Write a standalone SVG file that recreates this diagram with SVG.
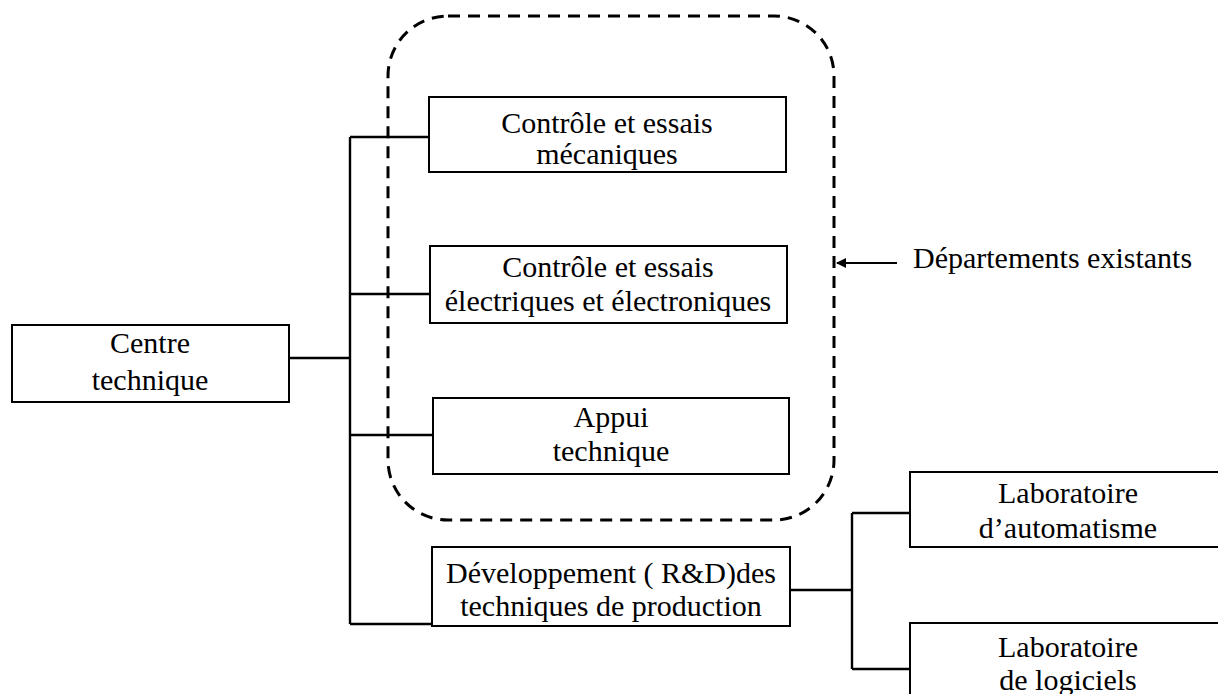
<svg xmlns="http://www.w3.org/2000/svg" width="1218" height="694" viewBox="0 0 1218 694">
<defs>
<style>
.box{fill:#fff;stroke:#000;stroke-width:2}
.t{font-family:"Liberation Serif","Times New Roman",serif;font-size:30px;fill:#000;text-anchor:middle}
.c{fill:none;stroke:#000;stroke-width:2.4}
</style>
<marker id="ah" markerWidth="10" markerHeight="10" refX="9" refY="5" orient="auto" markerUnits="userSpaceOnUse">
<path d="M0,0 L10,5 L0,10 Z" fill="#000"/>
</marker>
</defs>
<rect width="1218" height="694" fill="#fff"/>
<g id="existing-group">
<rect x="388" y="16" width="446" height="504" rx="60" ry="60" fill="none" stroke="#000" stroke-width="3" stroke-dasharray="12 8"/>
</g>
<g id="connectors">
<path class="c" d="M289,358 H350 M350,137 V624 M350,137 H429 M350,294 H430 M350,435 H433 M350,624 H432"/>
<path class="c" d="M790,590 H852 M852,513 V669 M852,513 H910 M852,669 H910"/>
<line x1="897" y1="263" x2="837" y2="263" stroke="#000" stroke-width="2.2" marker-end="url(#ah)"/>
</g>
<g id="centre">
<rect class="box" x="12" y="325" width="277" height="77"/>
<text class="t" x="150" y="353">Centre</text>
<text class="t" x="150" y="390">technique</text>
</g>
<g id="meca">
<rect class="box" x="429" y="97" width="357" height="75"/>
<text class="t" x="607" y="133">Contrôle et essais</text>
<text class="t" x="607" y="164">mécaniques</text>
</g>
<g id="elec">
<rect class="box" x="430" y="246" width="357" height="77"/>
<text class="t" x="608" y="277">Contrôle et essais</text>
<text class="t" x="608" y="311">électriques et électroniques</text>
</g>
<g id="appui">
<rect class="box" x="433" y="398" width="356" height="76"/>
<text class="t" x="611" y="427">Appui</text>
<text class="t" x="611" y="461">technique</text>
</g>
<g id="rd">
<rect class="box" x="432" y="547" width="358" height="79"/>
<text class="t" x="611" y="583">Développement ( R&amp;D)des</text>
<text class="t" x="611" y="616">techniques de production</text>
</g>
<g id="lab-auto">
<rect class="box" x="910" y="472" width="320" height="75"/>
<text class="t" x="1068" y="503">Laboratoire</text>
<text class="t" x="1068" y="538">d’automatisme</text>
</g>
<g id="lab-log">
<rect class="box" x="910" y="623" width="320" height="90"/>
<text class="t" x="1068" y="657">Laboratoire</text>
<text class="t" x="1068" y="690">de logiciels</text>
</g>
<g id="label">
<text class="t" x="913" y="268" style="text-anchor:start">Départements existants</text>
</g>
</svg>
